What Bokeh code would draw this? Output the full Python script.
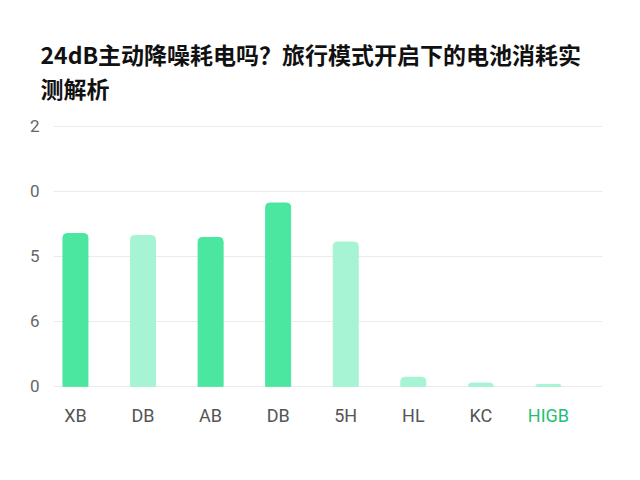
from bokeh.plotting import figure
from bokeh.models import Range1d, FixedTicker, Title, ColumnDataSource
from bokeh.core.properties import value
from bokeh.embed import file_html
from bokeh.resources import INLINE

title_line1 = "24dB主动降噪耗电吗？旅行模式开启下的电池消耗实"
title_line2 = "测解析"
categories = ["XB", "DB", "AB", "DB", "5H", "HL", "KC", "HIGB"]
values = [2.35, 2.32, 2.29, 2.82, 2.22, 0.14, 0.05, 0.03]
bar_colors = ["#4be6a0", "#a6f4d3", "#4be6a0", "#4be6a0", "#a6f4d3", "#a6f4d3", "#a6f4d3", "#a6f4d3"]
label_colors = ["#555555"] * 7 + ["#1fbf78"]
y_ticks = [0, 1, 2, 3, 4]
y_tick_labels = ["0", "6", "5", "0", "2"]

xs = list(range(len(categories)))
src = ColumnDataSource(dict(x=xs, top=values, color=bar_colors, label=categories,
                            lcolor=label_colors, ly=[-0.45] * len(xs)))

p = figure(width=632, height=472, output_backend="svg", toolbar_location=None,
           x_range=Range1d(-0.325, 7.8), y_range=Range1d(-0.91, 4.12),
           min_border_left=53, min_border_right=30, min_border_bottom=27, min_border_top=118)
p.background_fill_color = "white"
p.border_fill_color = "white"
p.outline_line_color = None

p.vbar(x="x", top="top", bottom=0, width=0.37, color="color", source=src,
       border_radius=(4, 4, 0, 0))
p.text(x="x", y="ly", text="label", text_color="lcolor", source=src,
       text_align="center", text_baseline="middle", text_font_size="18px",
       text_font=value("Roboto"))

p.xaxis.visible = False
p.xgrid.visible = False
p.yaxis.ticker = FixedTicker(ticks=y_ticks)
p.yaxis.major_label_overrides = {t: l for t, l in zip(y_ticks, y_tick_labels)}
p.yaxis.axis_line_color = None
p.yaxis.major_tick_line_color = None
p.yaxis.minor_tick_line_color = None
p.yaxis.major_label_standoff = 8
p.yaxis.major_label_text_font_size = "17px"
p.yaxis.major_label_text_color = "#666666"
p.yaxis.major_label_text_font = "Roboto"
p.ygrid.ticker = FixedTicker(ticks=y_ticks)
p.ygrid.grid_line_color = "#ebebeb"

p.add_layout(Title(text=title_line1 + "\n" + title_line2, align="left", offset=-13,
                   text_font_size="23px", text_font="Noto Sans CJK SC",
                   text_font_style="bold", text_color="#111111", standoff=27), "above")

open("out.html", "w").write(file_html(p, INLINE))
